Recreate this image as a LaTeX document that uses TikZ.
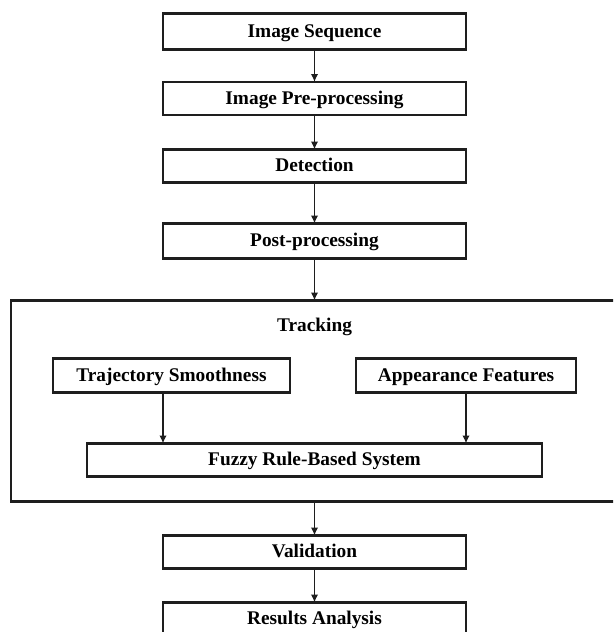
\documentclass[tikz,border=0pt]{standalone}
\usepackage{fontspec}
\setmainfont{Liberation Serif}
\usepackage{xcolor}
\usetikzlibrary{arrows.meta,positioning,calc}
\definecolor{ink}{HTML}{1E1E1E}
\tikzset{
  >={Latex[length=1.6mm,width=1.5mm]},
  stage/.style={draw=ink,line width=1.4pt,outer sep=0pt,align=center,minimum width=60.6mm,minimum height=6.6mm,inner sep=0pt,text height=1.45ex,text depth=0pt,font=\fontsize{11}{13}\selectfont\bfseries},
  cue/.style={draw=ink,line width=1.4pt,outer sep=0pt,align=center,minimum width=44mm,minimum height=6.8mm,inner sep=0pt,text height=1.45ex,text depth=0pt,font=\fontsize{11}{13}\selectfont\bfseries},
  rules/.style={draw=ink,line width=1.4pt,outer sep=0pt,align=center,minimum width=91mm,minimum height=6.6mm,inner sep=0pt,text height=1.45ex,text depth=0pt,font=\fontsize{11}{13}\selectfont\bfseries},
  group/.style={draw=ink,line width=1.4pt,outer sep=0pt,minimum width=121.4mm,minimum height=40.2mm,inner sep=0pt},
  flow/.style={->,line width=1.1pt,draw=ink}
}
\begin{document}
\begin{tikzpicture}[node distance=6.8mm]
  \useasboundingbox (0,0) rectangle (122.6mm,-126.4mm);
  \clip (0,0) rectangle (122.6mm,-126.4mm);

  \node[stage,minimum height=7.2mm] (seq) at (62.9mm,-6.3mm) {Image Sequence};
  \node[stage,below=6.5mm of seq] (pre) {Image Pre-processing};
  \node[stage,below=6.9mm of pre] (det) {Detection};
  \node[stage,minimum height=7mm,below=8.2mm of det] (post) {Post-processing};

  \node[group,below=8.4mm of post] (track) {};
  \node[font=\fontsize{11}{13}\selectfont\bfseries,text height=1.45ex,text depth=0pt] (tracklbl) at ($(track.north)+(0,-5mm)$) {Tracking};
  \node[cue,minimum width=47.4mm,below right=11.6mm and 8.4mm of track.north west] (traj) {Trajectory Smoothness};
  \node[cue,below left=11.6mm and 8.4mm of track.north east] (app) {Appearance Features};
  \node[rules,above=5mm of track.south] (fuzzy) {Fuzzy Rule-Based System};

  \node[stage,below=of track] (val) {Validation};
  \node[stage,below=of val] (res) {Results Analysis};

  \draw[flow] (seq) -- (pre);
  \draw[flow] (pre) -- (det);
  \draw[flow] (det) -- (post);
  \draw[flow] (post) -- (track);
  \draw[flow] (traj.south -| seq.west) -- (fuzzy.north -| seq.west);
  \draw[flow] (app) -- (app |- fuzzy.north);
  \draw[flow] (track) -- (val);
  \draw[flow] (val) -- (res);
\end{tikzpicture}
\end{document}
